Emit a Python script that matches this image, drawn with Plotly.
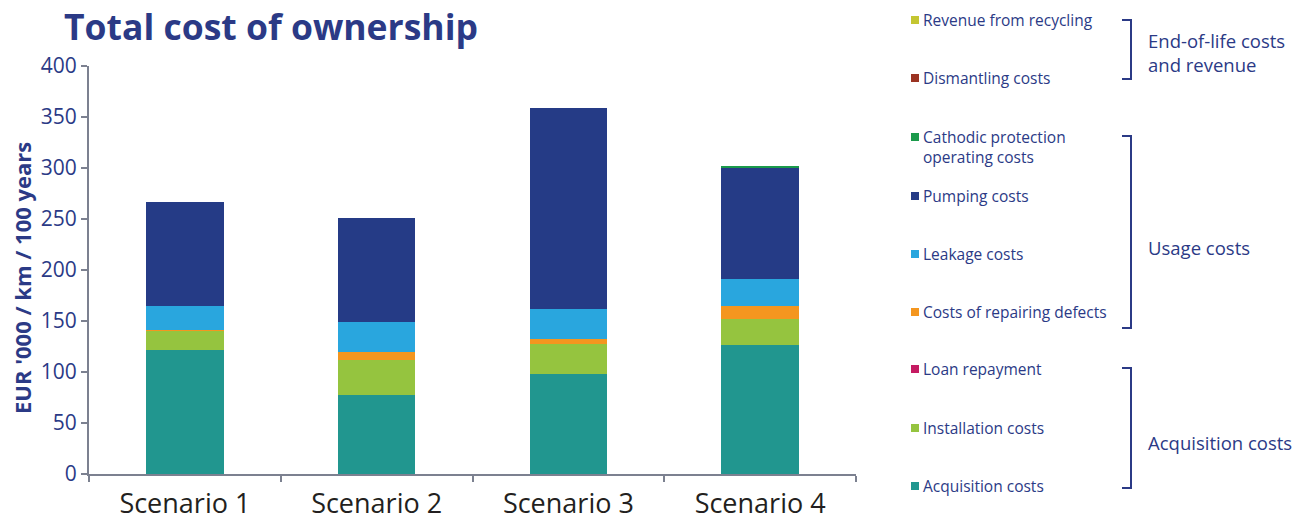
import plotly.graph_objects as go

# Scenarios and cost components (EUR '000 per km over 100 years)
scenarios = ["Scenario 1", "Scenario 2", "Scenario 3", "Scenario 4"]

acquisition_costs = [121.4, 77.6, 98.5, 126.3]
installation_costs = [19.2, 34.3, 29.4, 25.7]
loan_repayment = [0.0, 0.0, 0.0, 0.0]
repair_costs = [1.0, 8.1, 4.6, 13.1]
leakage_costs = [23.5, 28.8, 29.0, 26.1]
pumping_costs = [101.8, 102.1, 197.7, 109.0]
cathodic_costs = [0.0, 0.0, 0.0, 0.9]
dismantling_costs = [0.0, 0.0, 0.0, 0.0]
recycling_revenue = [0.0, 0.0, 0.0, 0.0]

y_ticks = [0, 50, 100, 150, 200, 250, 300, 350, 400]

NAVY = "#2b3a86"
AXIS_GREY = "#7c8190"
FONT = "Open Sans"

# Stack order, bottom to top
series = [
    ("Acquisition costs", acquisition_costs, "#21968f"),
    ("Installation costs", installation_costs, "#95c43f"),
    ("Loan repayment", loan_repayment, "#c51b62"),
    ("Costs of repairing defects", repair_costs, "#f4961f"),
    ("Leakage costs", leakage_costs, "#29a6de"),
    ("Pumping costs", pumping_costs, "#253b86"),
    ("Cathodic protection<br>operating costs", cathodic_costs, "#1b9a4b"),
    ("Dismantling costs", dismantling_costs, "#9b3322"),
    ("Revenue from recycling", recycling_revenue, "#c4c632"),
]

fig = go.Figure()
for name, vals, color in series:
    fig.add_trace(go.Bar(
        x=scenarios, y=vals, name=name.replace("<br>", " "),
        marker=dict(color=color, line=dict(width=0)),
        showlegend=False,
    ))

W, H = 1302, 523
L, R, T, B = 89, 446, 66, 49
PW, PH = W - L - R, H - T - B


def px(x):
    return (x - L) / PW


def py(y):
    return (H - B - y) / PH


annotations = []
shapes = []

# Title
annotations.append(dict(
    x=px(63), y=py(1), xref="paper", yref="paper", xanchor="left", yanchor="top",
    text="<b>Total cost of ownership</b>", showarrow=False, borderpad=0,
    font=dict(family=FONT, size=35.5, color=NAVY),
))

# Y-axis title
annotations.append(dict(
    x=px(22), y=py(278), xref="paper", yref="paper", xanchor="center", yanchor="middle",
    text="<b>EUR '000 / km / 100 years</b>", textangle=-90, showarrow=False,
    font=dict(family=FONT, size=22, color=NAVY),
))

# Legend entries, top to bottom (vertical centre of the swatch, text centre)
legend_rows = {
    "Revenue from recycling": (20, 20),
    "Dismantling costs": (78, 78),
    "Cathodic protection<br>operating costs": (137, 146.5),
    "Pumping costs": (196, 196),
    "Leakage costs": (254, 254),
    "Costs of repairing defects": (312, 312),
    "Loan repayment": (369, 369),
    "Installation costs": (428, 428),
    "Acquisition costs": (486, 486),
}
for name, vals, color in series:
    ys, yt = legend_rows[name]
    shapes.append(dict(
        type="rect", xref="paper", yref="paper",
        x0=px(911), x1=px(919), y0=py(ys + 4), y1=py(ys - 4),
        fillcolor=color, line=dict(width=0),
    ))
    annotations.append(dict(
        x=px(921), y=py(yt), xref="paper", yref="paper",
        xanchor="left", yanchor="middle", align="left",
        text=name, showarrow=False,
        font=dict(family=FONT, size=15.5, color=NAVY),
    ))

# Group brackets and labels
groups = [
    ("End-of-life costs<br>and revenue", 20, 79, 53),
    ("Usage costs", 136, 328, 247),
    ("Acquisition costs", 368, 488, 442),
]
for label, top, bottom, label_y in groups:
    shapes.append(dict(
        type="path", xref="paper", yref="paper",
        path=(f"M {px(1122)} {py(top)} L {px(1131)} {py(top)} "
              f"L {px(1131)} {py(bottom)} L {px(1122)} {py(bottom)}"),
        line=dict(color=NAVY, width=2),
    ))
    annotations.append(dict(
        x=px(1146), y=py(label_y), xref="paper", yref="paper",
        xanchor="left", yanchor="middle", align="left",
        text=label, showarrow=False,
        font=dict(family=FONT, size=18.5, color=NAVY),
    ))

fig.update_layout(
    width=W, height=H,
    margin=dict(l=L, r=R, t=T, b=B, pad=0, autoexpand=False),
    barmode="stack",
    bargap=0.596,
    paper_bgcolor="white",
    plot_bgcolor="white",
    font=dict(family=FONT, color=NAVY),
    annotations=annotations,
    shapes=shapes,
    xaxis=dict(
        showline=True, linecolor=AXIS_GREY, linewidth=2,
        ticks="outside", tickson="boundaries", ticklen=6, tickcolor=AXIS_GREY, tickwidth=1.5,
        tickfont=dict(family=FONT, size=27, color="#231f20"),
        ticklabelstandoff=5, automargin=False,
        showgrid=False, zeroline=False,
    ),
    yaxis=dict(
        range=[0, 400], tickvals=y_ticks,
        showline=True, linecolor=AXIS_GREY, linewidth=2,
        ticks="outside", ticklen=6, tickcolor=AXIS_GREY, tickwidth=1.5,
        tickfont=dict(family=FONT, size=21, color=NAVY),
        automargin=False,
        showgrid=False, zeroline=False,
    ),
)

fig.write_html("out.html")
